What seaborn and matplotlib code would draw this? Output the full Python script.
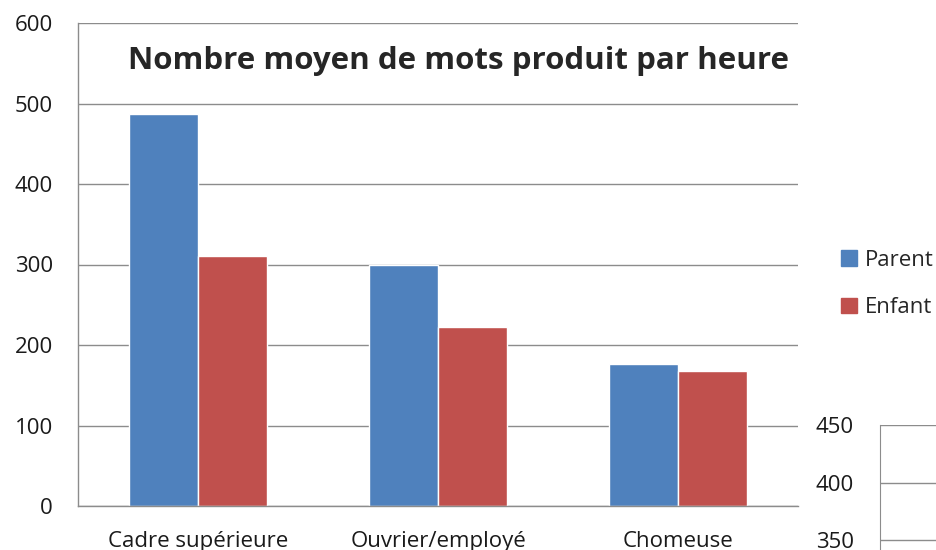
import pandas as pd
import matplotlib.pyplot as plt
import seaborn as sns
from matplotlib.ticker import FixedLocator

# -------------------------
# DATA
# -------------------------
categories = ['Cadre supérieure', 'Ouvrier/employé', 'Chomeuse']
parent = [487, 300, 176]
enfant = [311, 222, 168]
series = ['Parent', 'Enfant']
y_ticks = [0, 100, 200, 300, 400, 500, 600]
side_ticks = [350, 400, 450]

df = pd.DataFrame({
    'categorie': categories * 2,
    'valeur': parent + enfant,
    'serie': [series[0]] * 3 + [series[1]] * 3,
})

# -------------------------
# STYLE
# -------------------------
sns.set_style('white')
plt.rcParams['font.family'] = ['Open Sans', 'DejaVu Sans']
grey = '#8c8c8c'
colors = ['#4F81BD', '#C0504D']
fs = 16

fig = plt.figure(figsize=(9.36, 5.5), dpi=100)
ax = fig.add_axes([78 / 936, 1 - 506 / 550, 720 / 936, 483 / 550])

sns.barplot(data=df, x='categorie', y='valeur', hue='serie', palette=colors,
            width=0.575, saturation=1, ax=ax, legend=False)

ax.set_xlim(-0.5, 2.5)
ax.set_ylim(0, 600)
ax.set_yticks(y_ticks)
ax.yaxis.grid(True, color=grey, linewidth=1)
ax.set_axisbelow(True)
ax.set_xlabel('')
ax.set_ylabel('')
for s in ['top', 'right']:
    ax.spines[s].set_visible(False)
for s in ['left', 'bottom']:
    ax.spines[s].set_color(grey)
    ax.spines[s].set_linewidth(1)

ax.tick_params(axis='y', length=7, color=grey, labelsize=fs, pad=11)
ax.tick_params(axis='x', which='major', length=0, labelsize=fs, pad=18)
ax.xaxis.set_minor_locator(FixedLocator([-0.5, 0.5, 1.5, 2.5]))
ax.tick_params(axis='x', which='minor', length=7, color=grey)
for lab in ax.get_xticklabels() + ax.get_yticklabels():
    lab.set_color('#1a1a1a')

fig.text(128 / 936, 1 - 61 / 550, 'Nombre moyen de mots produit par heure',
         fontsize=22.5, fontweight='bold', va='center', ha='left')

# legend
handles = [plt.Rectangle((0, 0), 1, 1, color=c) for c in colors]
fig.legend(handles, series, loc='center left',
           bbox_to_anchor=(830 / 936, 1 - 284 / 550), frameon=False,
           fontsize=fs, handlelength=0.7, handleheight=0.7,
           handletextpad=0.35, labelspacing=1.2, borderpad=0)

# partial neighbouring chart in the corner
ax2 = fig.add_axes([880 / 936, 1 - 598 / 550, 0.2, 173 / 550])
ax2.set_ylim(300, 450)
ax2.set_yticks(side_ticks)
ax2.yaxis.grid(True, color=grey, linewidth=1)
ax2.set_xticks([])
for s in ['top', 'right', 'bottom']:
    ax2.spines[s].set_visible(False)
ax2.spines['left'].set_color(grey)
ax2.tick_params(axis='y', length=7, color=grey, labelsize=fs, pad=12)
for lab in ax2.get_yticklabels():
    lab.set_color('#1a1a1a')
ax2.patch.set_alpha(0)

fig.savefig('out.png', dpi=100)
